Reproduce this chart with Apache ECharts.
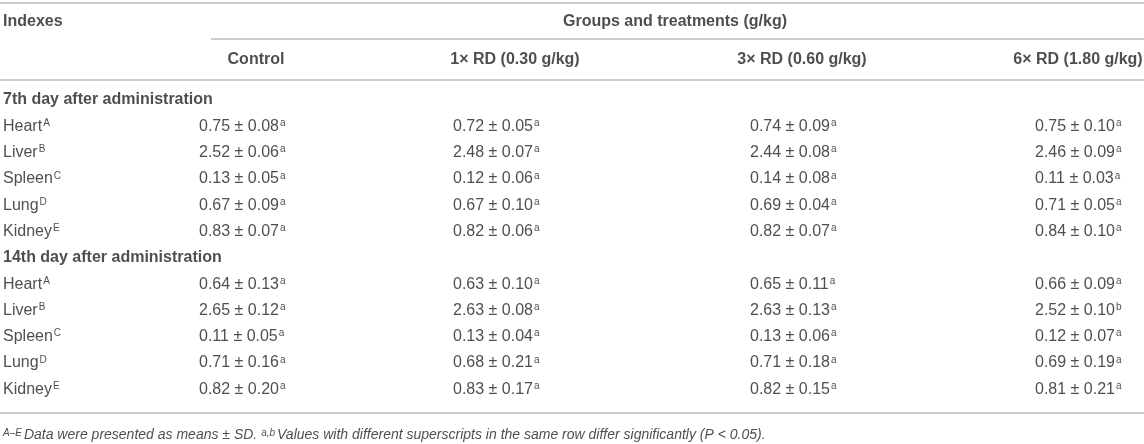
<!DOCTYPE html>
<html>
<head>
<meta charset="utf-8">
<script src="https://cdn.jsdelivr.net/npm/echarts@6/dist/echarts.min.js"></script>
<style>
  html, body { margin: 0; padding: 0; background: #fff; }
  #table { width: 1144px; height: 444px; }
</style>
</head>
<body>
<div id="table"></div>
<script>
// table content
const groupTitle = 'Groups and treatments (g/kg)'
const groups = ['Control', '1\u00d7 RD (0.30 g/kg)', '3\u00d7 RD (0.60 g/kg)', '6\u00d7 RD (1.80 g/kg)']
const sections = ['7th day after administration', '14th day after administration']
const organs = ['Heart', 'Liver', 'Spleen', 'Lung', 'Kidney']
const organSup = ['A', 'B', 'C', 'D', 'E']

// 7th day: rows = organs, cols = groups
const mean7 = [
  [0.75, 0.72, 0.74, 0.75],
  [2.52, 2.48, 2.44, 2.46],
  [0.13, 0.12, 0.14, 0.11],
  [0.67, 0.67, 0.69, 0.71],
  [0.83, 0.82, 0.82, 0.84]
]
const sd7 = [
  [0.08, 0.05, 0.09, 0.10],
  [0.06, 0.07, 0.08, 0.09],
  [0.05, 0.06, 0.08, 0.03],
  [0.09, 0.10, 0.04, 0.05],
  [0.07, 0.06, 0.07, 0.10]
]
const sup7 = [
  ['a', 'a', 'a', 'a'],
  ['a', 'a', 'a', 'a'],
  ['a', 'a', 'a', 'a'],
  ['a', 'a', 'a', 'a'],
  ['a', 'a', 'a', 'a']
]

// 14th day
const mean14 = [
  [0.64, 0.63, 0.65, 0.66],
  [2.65, 2.63, 2.63, 2.52],
  [0.11, 0.13, 0.13, 0.12],
  [0.71, 0.68, 0.71, 0.69],
  [0.82, 0.83, 0.82, 0.81]
]
const sd14 = [
  [0.13, 0.10, 0.11, 0.09],
  [0.12, 0.08, 0.13, 0.10],
  [0.05, 0.04, 0.06, 0.07],
  [0.16, 0.21, 0.18, 0.19],
  [0.20, 0.17, 0.15, 0.21]
]
const sup14 = [
  ['a', 'a', 'a', 'a'],
  ['a', 'a', 'a', 'b'],
  ['a', 'a', 'a', 'a'],
  ['a', 'a', 'a', 'a'],
  ['a', 'a', 'a', 'a']
]

const footnote = '{isup|A\u2013E}Data were presented as means \u00b1 SD. {isup|a,b}Values with different superscripts in the same row differ significantly (P < 0.05).'

// layout (pixels)
const W = 1144, H = 444
const leftX = 3
const headerCenterX = [256, 515, 802, 1078]
const valueX = [199, 453, 750, 1035]
const groupTitleX = 675
const rowTop = 100, rowStep = 26.3

const fontFamily = 'Liberation Sans, Arial, Helvetica, sans-serif'
const textColor = '#222'
const ruleColor = '#bdbdbd'

const rich = {
  sup: { fontSize: 10, fontFamily: fontFamily, color: textColor, verticalAlign: 'top', lineHeight: 10, padding: [0, 0, 7, 1] },
  isup: { fontSize: 10, fontFamily: fontFamily, fontStyle: 'italic', color: textColor, verticalAlign: 'top', lineHeight: 10, padding: [0, 2, 6, 0] }
}

function cell(text) {
  return text
}

var leftCells = []
var centerCells = []

leftCells.push({ value: [leftX, 22], text: 'Indexes', bold: true })
centerCells.push({ value: [groupTitleX, 22], text: groupTitle, bold: true })
groups.forEach(function (g, i) {
  centerCells.push({ value: [headerCenterX[i], 60], text: g, bold: true })
})

var tables = [[mean7, sd7, sup7], [mean14, sd14, sup14]]
var r = 0
sections.forEach(function (s, si) {
  leftCells.push({ value: [leftX, rowTop + r * rowStep], text: s, bold: true })
  r++
  organs.forEach(function (o, oi) {
    var y = rowTop + r * rowStep
    leftCells.push({ value: [leftX, y], text: o + '{sup|' + organSup[oi] + '}' })
    var t = tables[si]
    for (var c = 0; c < groups.length; c++) {
      leftCells.push({
        value: [valueX[c], y],
        text: t[0][oi][c].toFixed(2) + ' \u00b1 ' + t[1][oi][c].toFixed(2) + '{sup|' + t[2][oi][c] + '}'
      })
    }
    r++
  })
})

function toItem(d) {
  return {
    value: d.value,
    label: {
      formatter: d.text,
      fontWeight: d.bold ? 'bold' : 'normal'
    }
  }
}

var rules = [
  [[0, 3], [W, 3]],
  [[211, 39], [W, 39]],
  [[0, 80], [W, 80]],
  [[0, 413], [W, 413]]
]

var myChart = echarts.init(document.getElementById('table'))
const option = {
  animation: false,
  grid: { left: 0, right: 0, top: 0, bottom: 0 },
  xAxis: { type: 'value', min: 0, max: W, show: false },
  yAxis: { type: 'value', min: 0, max: H, inverse: true, show: false },
  series: [
    {
      type: 'lines',
      coordinateSystem: 'cartesian2d',
      polyline: false,
      silent: true,
      lineStyle: { color: ruleColor, width: 1.6, opacity: 1 },
      data: rules.map(function (c) { return { coords: c } })
    },
    {
      type: 'scatter',
      symbolSize: 0,
      silent: true,
      label: {
        show: true,
        position: 'right',
        distance: 0,
        fontSize: 16,
        fontFamily: fontFamily,
        color: textColor,
        rich: rich
      },
      data: leftCells.map(toItem)
    },
    {
      type: 'scatter',
      symbolSize: 0,
      silent: true,
      label: {
        show: true,
        position: 'inside',
        fontSize: 16,
        fontFamily: fontFamily,
        color: textColor,
        rich: rich
      },
      data: centerCells.map(toItem)
    },
    {
      type: 'scatter',
      symbolSize: 0,
      silent: true,
      label: {
        show: true,
        position: 'right',
        distance: 0,
        fontSize: 14,
        fontStyle: 'italic',
        fontFamily: fontFamily,
        color: textColor,
        rich: rich
      },
      data: [{ value: [leftX, 435], label: { formatter: footnote } }]
    }
  ]
}
myChart.setOption(option)
</script>
</body>
</html>
